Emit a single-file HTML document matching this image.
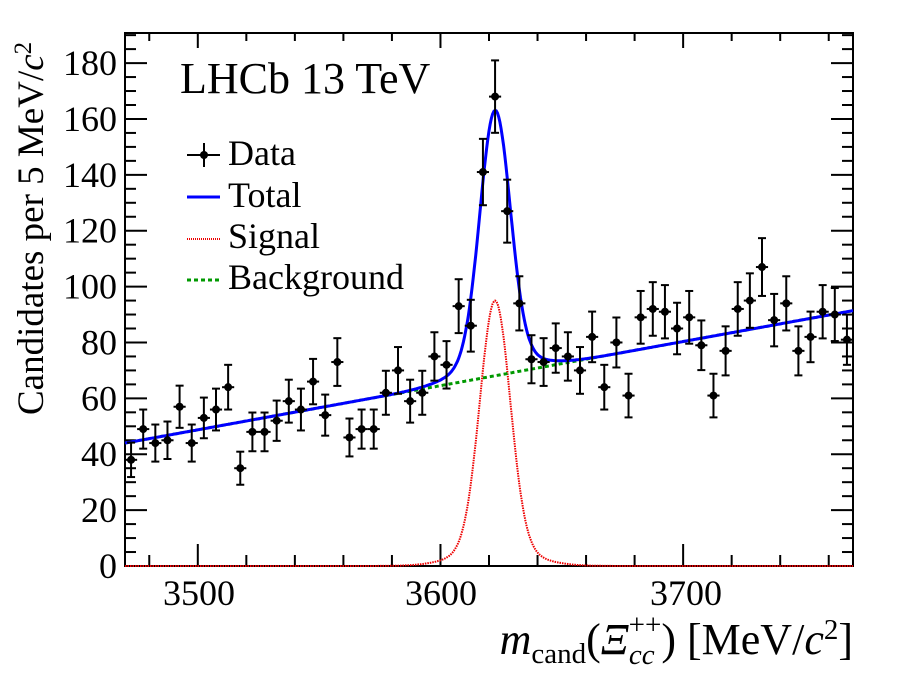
<!DOCTYPE html>
<html><head><meta charset="utf-8"><style>body{margin:0;background:#fff}svg{display:block}text{font-family:"Liberation Serif",serif;fill:#000}</style></head>
<body>
<svg id="s" width="898" height="674" xmlns="http://www.w3.org/2000/svg">
<rect x="0" y="0" width="898" height="674" fill="#fff"/>
<g id="g"></g>
<text x="180" y="93" font-size="44">LHCb 13 TeV</text>
<line x1="187" y1="155" x2="220" y2="155" stroke="#000" stroke-width="2"/>
<line x1="204" y1="143" x2="204" y2="167" stroke="#000" stroke-width="2"/>
<circle cx="204" cy="155" r="4" fill="#000"/>
<text x="228" y="165" font-size="36">Data</text>
<line x1="187" y1="197" x2="220" y2="197" stroke="#0000ff" stroke-width="3"/>
<text x="228" y="207" font-size="36">Total</text>
<line x1="187" y1="239" x2="220" y2="239" stroke="#ee0000" stroke-width="2" stroke-dasharray="1,1"/>
<text x="228" y="248" font-size="36">Signal</text>
<line x1="187" y1="280" x2="220" y2="280" stroke="#009900" stroke-width="3" stroke-dasharray="4,3"/>
<text x="228" y="289" font-size="36">Background</text>
<text x="199" y="605" font-size="36" text-anchor="middle">3500</text>
<text x="441" y="605" font-size="36" text-anchor="middle">3600</text>
<text x="686" y="605" font-size="36" text-anchor="middle">3700</text>
<text x="853" y="654" font-size="44" text-anchor="end"><tspan font-style="italic">m</tspan><tspan font-size="29" dy="9">cand</tspan><tspan dy="-9">(</tspan><tspan font-style="italic">Ξ</tspan><tspan font-size="29" font-style="italic" dy="10">cc</tspan><tspan font-size="29" dx="-26" dy="-30">++</tspan><tspan dy="20">) [MeV/</tspan><tspan font-style="italic">c</tspan><tspan font-size="29" dy="-15">2</tspan><tspan dy="15">]</tspan></text>
<text transform="translate(43,415) rotate(-90)" font-size="37">Candidates per 5 MeV/<tspan font-style="italic">c</tspan><tspan font-size="25" dy="-12">2</tspan></text>
</svg>
<script>
const g=document.getElementById('g');let h='';
const X0=125,X1=853,Y0=566,Y1=33;
const xp=m=>X0+(m-3470)/300*(X1-X0);
const yp=v=>Y0-v*2.794;
h+=`<rect x="${X0}" y="${Y1}" width="${X1-X0}" height="${Y0-Y1}" fill="none" stroke="#000" stroke-width="2"/>`;
for(let m=3480;m<=3760;m+=20){const x=xp(m);const maj=(m%100==0);const L=maj?22:11;
h+=`<line x1="${x}" y1="${Y0}" x2="${x}" y2="${Y0-L}" stroke="#000" stroke-width="2"/>`;
h+=`<line x1="${x}" y1="${Y1}" x2="${x}" y2="${Y1+(maj?15:8)}" stroke="#000" stroke-width="2"/>`;}
for(let v=5;v<=190;v+=5){const y=yp(v);if(y<Y1)break;const maj=(v%20==0);const L=maj?22:11;
h+=`<line x1="${X0}" y1="${y}" x2="${X0+L}" y2="${y}" stroke="#000" stroke-width="2"/>`;
h+=`<line x1="${X1}" y1="${y}" x2="${X1-L}" y2="${y}" stroke="#000" stroke-width="2"/>`;}
for(let v=0;v<=180;v+=20){h+=`<text x="${X0-8}" y="${yp(v)+12}" font-size="36" text-anchor="end">${v}</text>`;}
const bkg=m=>44+(m-3470)*0.158;
const sig=m=>{const d=m-3622.5;return 88*Math.exp(-d*d/(2*6.2*6.2))+7*Math.exp(-d*d/(2*14*14));};
let pb='',pt='',ps='';
for(let m=3470;m<=3770;m+=0.5){const x=xp(m).toFixed(1);
pb+=(pb?'L':'M')+x+','+yp(bkg(m)).toFixed(1);
pt+=(pt?'L':'M')+x+','+yp(bkg(m)+sig(m)).toFixed(1);
ps+=(ps?'L':'M')+x+','+Math.min(Y0,yp(sig(m))).toFixed(1);}
h+=`<path d="${ps}" fill="none" stroke="#ee0000" stroke-width="2" stroke-dasharray="1.5,1"/>`;
h+=`<path d="${pb}" fill="none" stroke="#009900" stroke-width="3" stroke-dasharray="4,3"/>`;
h+=`<path d="${pt}" fill="none" stroke="#0000ff" stroke-width="3"/>`;
const d=[38,49,44,45,57,44,53,56,64,35,48,48,52,59,56,66,54,73,46,49,49,62,70,59,62,75,72,93,86,141,168,127,94,74,73,78,75,70,82,64,80,61,89,92,91,85,89,79,61,77,92,95,107,88,94,77,82,91,90,81];
d.forEach((v,i)=>{const m=3472.5+5*i,x=xp(m),y=yp(v),e=Math.sqrt(v)*2.794,hw=2.5*2.427;
h+=`<line x1="${x}" y1="${y-e}" x2="${x}" y2="${y+e}" stroke="#000" stroke-width="2"/>`;
h+=`<line x1="${x-4}" y1="${y-e}" x2="${x+4}" y2="${y-e}" stroke="#000" stroke-width="2"/>`;
h+=`<line x1="${x-4}" y1="${y+e}" x2="${x+4}" y2="${y+e}" stroke="#000" stroke-width="2"/>`;
h+=`<line x1="${x-hw}" y1="${y}" x2="${x+hw}" y2="${y}" stroke="#000" stroke-width="2"/>`;
h+=`<circle cx="${x}" cy="${y}" r="4" fill="#000"/>`;});
g.innerHTML=h;
</script>
</body></html>
